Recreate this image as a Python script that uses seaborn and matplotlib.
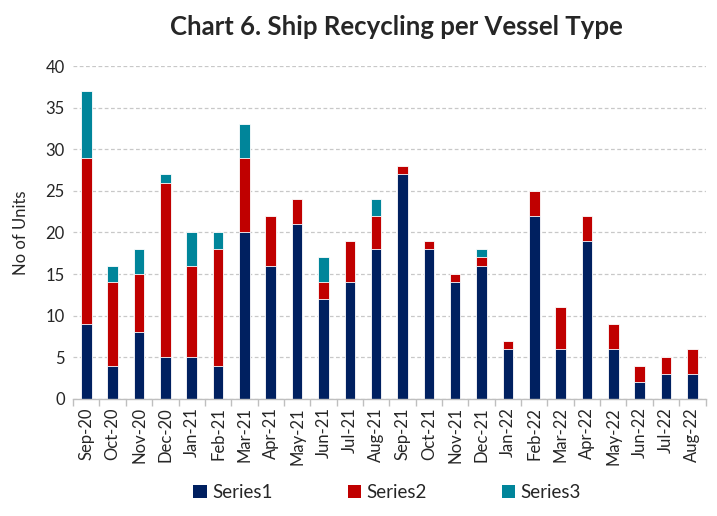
import numpy as np
import pandas as pd
import matplotlib
matplotlib.use("Agg")
import matplotlib.pyplot as plt
import seaborn as sns
from matplotlib.patches import Patch

months = ["Sep-20", "Oct-20", "Nov-20", "Dec-20", "Jan-21", "Feb-21", "Mar-21", "Apr-21",
          "May-21", "Jun-21", "Jul-21", "Aug-21", "Sep-21", "Oct-21", "Nov-21", "Dec-21",
          "Jan-22", "Feb-22", "Mar-22", "Apr-22", "May-22", "Jun-22", "Jul-22", "Aug-22"]
series1 = [9, 4, 8, 5, 5, 4, 20, 16, 21, 12, 14, 18, 27, 18, 14, 16, 6, 22, 6, 19, 6, 2, 3, 3]
series2 = [20, 10, 7, 21, 11, 14, 9, 6, 3, 2, 5, 4, 1, 1, 1, 1, 1, 3, 5, 3, 3, 2, 2, 3]
series3 = [8, 2, 3, 1, 4, 2, 4, 0, 0, 3, 0, 2, 0, 0, 0, 1, 0, 0, 0, 0, 0, 0, 0, 0]
series_names = ["Series1", "Series2", "Series3"]
colors = ["#002060", "#C00000", "#00859A"]

sns.set_theme(style="white")
plt.rcParams['font.family'] = ['Lato', 'DejaVu Sans']

df = pd.DataFrame({"month": months, "s1": series1, "s2": series2, "s3": series3})
df["c1"] = df["s1"]
df["c2"] = df["s1"] + df["s2"]
df["c3"] = df["c2"] + df["s3"]

fig = plt.figure(figsize=(7.17, 5.16), dpi=100)
ax = fig.add_axes([0.102, 0.227, 0.882, 0.645])

for col, color in zip(["c3", "c2", "c1"], colors[::-1]):
    sns.barplot(data=df, x="month", y=col, color=color, width=0.4, ax=ax,
                edgecolor="white", linewidth=0.6, saturation=1, errorbar=None)

ax.set_ylim(0, 40)
ax.set_yticks(range(0, 41, 5))
ax.set_xlim(-0.5, len(months) - 0.5)
ax.yaxis.grid(True, linestyle=(0, (3, 2)), color="#c8c8c8", linewidth=0.9)
ax.set_axisbelow(True)
for s in ["left", "right", "top"]:
    ax.spines[s].set_visible(False)
ax.spines["bottom"].set_color("#bfbfbf")
ax.spines["bottom"].set_linewidth(1.0)

ax.set_xticks(range(len(months)))
ax.set_xticklabels(months, rotation=90, fontsize=12)
ax.set_xticks(np.arange(-0.5, len(months), 1.0), minor=True)
ax.tick_params(axis="x", which="major", length=0, pad=6)
ax.tick_params(axis="x", which="minor", length=5, color="#bfbfbf", width=1.0, bottom=True)
ax.tick_params(axis="y", labelsize=12, length=0, pad=6)
ax.set_xlabel("")
ax.set_ylabel("No of Units", fontsize=12, labelpad=12)

fig.suptitle("Chart 6. Ship Recycling per Vessel Type", x=0.553, y=0.97,
             fontsize=18.5, fontweight="bold")

handles = [Patch(facecolor=c, edgecolor="none") for c in colors]
fig.legend(handles, series_names, loc="center", bbox_to_anchor=(0.54, 0.045),
           ncol=3, frameon=False, fontsize=13.5, handlelength=0.7, handleheight=0.7,
           columnspacing=4.0, handletextpad=0.3)

fig.savefig("out.png", dpi=100)
